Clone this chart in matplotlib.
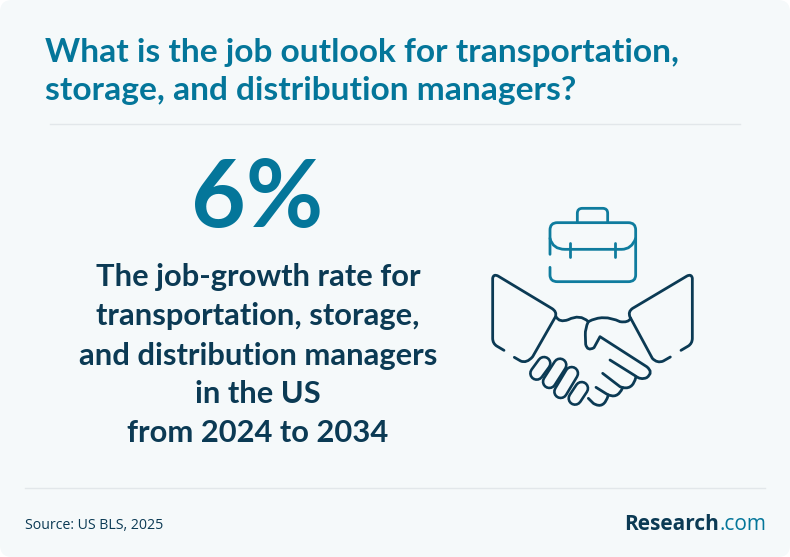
import matplotlib
matplotlib.use('Agg')
import matplotlib.pyplot as plt
from matplotlib.patches import FancyBboxPatch, PathPatch
from matplotlib.path import Path

W, H = 790, 557
TEAL = '#04769a'
NAVY = '#0b3a54'
ICON_TEAL = '#0f7c9e'
CARD = '#f5f9fa'
RULE = '#e2e7ea'

title_lines = ['What is the job outlook for transportation,', 'storage, and distribution managers?']
big_number = '6%'
body_lines = ['The job-growth rate for', 'transportation, storage,', 'and distribution managers', 'in the US', 'from 2024 to 2034']
source_text = 'Source: US BLS, 2025'
logo_parts = ['Research', '.com']

plt.rcParams['font.family'] = ['Lato', 'DejaVu Sans']

fig = plt.figure(figsize=(W / 100, H / 100), dpi=100, facecolor='white')
ax = fig.add_axes([0, 0, 1, 1])
ax.set_xlim(0, W)
ax.set_ylim(H, 0)
ax.axis('off')

# background card
ax.add_patch(FancyBboxPatch((0, 0), W, H, boxstyle='round,pad=0,rounding_size=12',
                            fc=CARD, ec='none', zorder=0))

# rules
ax.plot([50, 740], [124, 124], color=RULE, lw=1, zorder=1)
ax.plot([25, 765], [488, 488], color=RULE, lw=1, zorder=1)

# text
for line, y in zip(title_lines, [62, 100]):
    ax.text(45, y, line, color=TEAL, fontsize=24.1, fontweight='bold', va='baseline')
ax.text(257, 227, big_number, color=TEAL, fontsize=68, fontweight='bold', ha='center', va='baseline')
for line, y in zip(body_lines, [286, 325, 365, 403, 442]):
    ax.text(258, y, line, color=NAVY, fontsize=22.2, fontweight='bold', ha='center', va='baseline')
ax.text(25, 529, source_text, color=NAVY, fontsize=10.2, family='Open Sans', va='baseline')

# logo, two colours so measure the right part first
com = ax.text(766, 530, logo_parts[1], color=TEAL, fontsize=15, family='Open Sans', ha='right', va='baseline')
fig.canvas.draw()
com_left = com.get_window_extent().x0
ax.text(com_left, 530, logo_parts[0], color=NAVY, fontsize=15, family='Open Sans', fontweight='bold',
        ha='right', va='baseline')


def px(x, y):
    # icon was traced on a 3x crop starting at (480, 195)
    return 480 + x / 3, 195 + y / 3


def stroke(cmds, color, lw=2.0, zorder=3):
    verts, codes = [], []
    for c in cmds:
        if len(c) == 2:
            verts.append(px(*c))
            codes.append(Path.LINETO if codes else Path.MOVETO)
        else:
            verts += [px(c[0], c[1]), px(c[2], c[3])]
            codes += [Path.CURVE3, Path.CURVE3]
    ax.add_patch(PathPatch(Path(verts, codes), fc='none', ec=color, lw=lw,
                           capstyle='round', joinstyle='round', zorder=zorder))


# briefcase
stroke([(292, 80), (292, 55), (292, 40, 307, 40), (368, 40), (383, 40, 383, 55), (383, 80)], ICON_TEAL)
stroke([(210, 178), (210, 105), (210, 83, 232, 83), (445, 83), (467, 83, 467, 105), (467, 240),
        (467, 260, 445, 260), (232, 260), (210, 260, 210, 240), (210, 217)], ICON_TEAL)
stroke([(210, 130), (218, 163, 255, 163), (425, 163), (455, 163, 467, 130)], ICON_TEAL)
stroke([(270, 145), (270, 185)], ICON_TEAL)
stroke([(404, 145), (404, 185)], ICON_TEAL)

# handshake: cuffs
stroke([(72, 466), (50, 453), (38, 445, 38, 430), (38, 250), (40, 236, 54, 243), (215, 340),
        (232, 350, 226, 366), (158, 485), (140, 506, 122, 498), (103, 487)], NAVY)
stroke([(603, 466), (625, 453), (637, 445, 637, 430), (637, 250), (635, 236, 621, 243), (458, 340),
        (443, 350, 450, 366), (517, 490), (532, 506, 550, 498), (571, 486)], NAVY)
# top of the hands
stroke([(228, 365), (238, 384, 265, 374), (300, 356, 325, 380),
        (370, 356, 420, 380), (445, 384, 452, 370)], NAVY)
# thumb and fingers of the right hand
stroke([(325, 380), (315, 400, 316, 420), (317, 448), (322, 470, 342, 458), (360, 425), (500, 515),
        (522, 532, 500, 548), (482, 556, 465, 542), (390, 495)], NAVY)
stroke([(468, 545), (458, 590, 420, 575), (368, 535)], NAVY)
stroke([(428, 578), (412, 615, 380, 597), (348, 577)], NAVY)
stroke([(385, 600), (372, 645, 340, 625), (325, 610)], NAVY)

# knuckles of the left hand, capsules drawn as a thick line with a card coloured core
knuckles = [((192, 505), (170, 535)), ((240, 510), (208, 560)), ((275, 535), (242, 590)), ((305, 580), (285, 610))]
for i, (a, b) in enumerate(knuckles):
    xs, ys = zip(px(*a), px(*b))
    ax.plot(xs, ys, color=NAVY, lw=11, solid_capstyle='round', zorder=4 + 2 * i)
    ax.plot(xs, ys, color=CARD, lw=7.2, solid_capstyle='round', zorder=5 + 2 * i)

fig.savefig('out.png', dpi=100, facecolor='white')
